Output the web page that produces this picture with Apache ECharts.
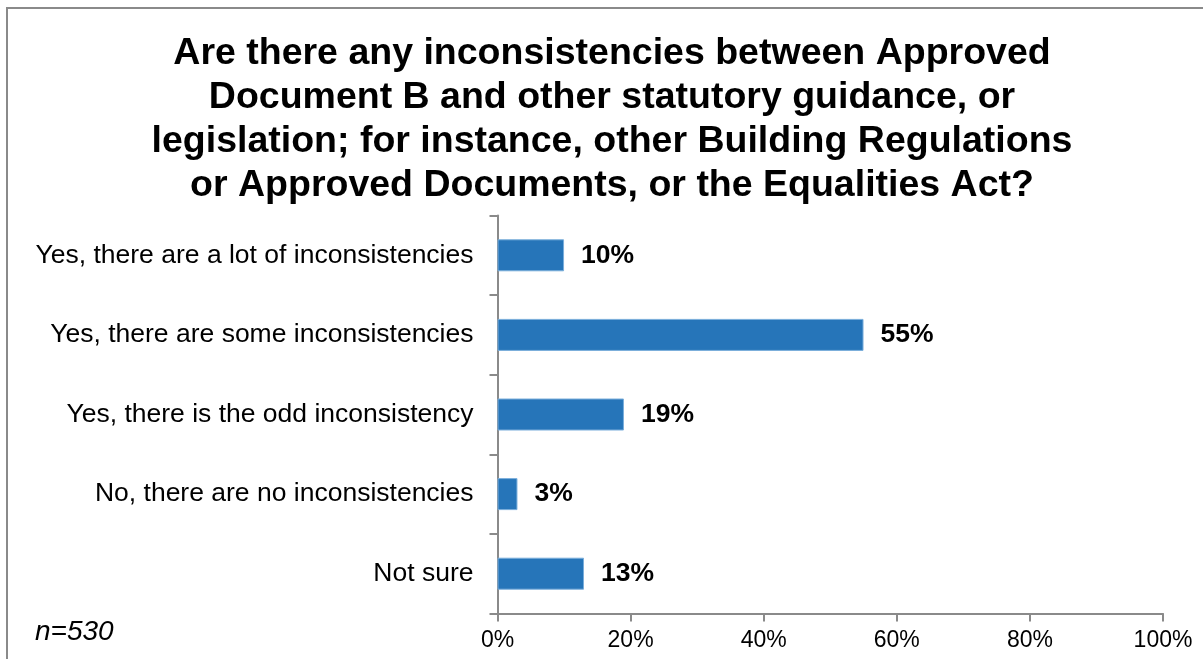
<!DOCTYPE html>
<html>
<head>
<meta charset="utf-8">
<script src="https://cdn.jsdelivr.net/npm/echarts@6/dist/echarts.min.js"></script>
<style>
  html, body { margin: 0; padding: 0; background: #ffffff; }
  #chart { width: 1203px; height: 659px; }
</style>
</head>
<body>
<div id="chart"></div>
<script>
// Survey responses (share of respondents, %)
const categories = [
  'Yes, there are a lot of inconsistencies',
  'Yes, there are some inconsistencies',
  'Yes, there is the odd inconsistency',
  'No, there are no inconsistencies',
  'Not sure'
];
const values = [10, 55, 19, 3, 13];
const xTicks = [0, 20, 40, 60, 80, 100];
const titleLines = [
  'Are there any inconsistencies between Approved',
  'Document B and other statutory guidance, or',
  'legislation; for instance, other Building Regulations',
  'or Approved Documents, or the Equalities Act?'
];
const sampleNote = 'n=530';

const FONT = 'Liberation Sans, Arial, sans-serif';
const AXIS_GREY = '#8a8a8a';

const chart = echarts.init(document.getElementById('chart'), null, { renderer: 'canvas' });

chart.setOption({
  backgroundColor: '#ffffff',
  animation: false,
  title: {
    text: titleLines.join('\n'),
    left: 607,
    top: 27,
    textAlign: 'center',
    textStyle: {
      fontFamily: FONT,
      fontWeight: 'bold',
      fontSize: 37.5,
      lineHeight: 44,
      color: '#000000'
    }
  },
  graphic: [
    {
      type: 'polyline',
      shape: { points: [[7, 700], [7, 8], [1210, 8]] },
      style: { stroke: AXIS_GREY, lineWidth: 2, fill: null },
      silent: true
    },
    {
      type: 'text',
      left: 35,
      top: 618,
      style: {
        text: sampleNote,
        font: 'italic 28px ' + FONT,
        fill: '#000000'
      }
    }
  ],
  grid: {
    left: 497.5,
    right: 40,
    top: 215.5,
    bottom: 45.5,
    containLabel: false
  },
  xAxis: {
    type: 'value',
    min: xTicks[0],
    max: xTicks[xTicks.length - 1],
    interval: 20,
    axisLine: { show: true, lineStyle: { color: AXIS_GREY, width: 2 } },
    axisTick: { show: true, length: 8, inside: false, lineStyle: { color: AXIS_GREY, width: 2 } },
    splitLine: { show: false },
    axisLabel: {
      formatter: '{value}%',
      fontFamily: FONT,
      fontSize: 23,
      color: '#000000',
      margin: 16
    }
  },
  yAxis: {
    type: 'category',
    data: categories,
    inverse: true,
    axisLine: { show: true, lineStyle: { color: AXIS_GREY, width: 2 } },
    axisTick: { show: true, length: 8, lineStyle: { color: AXIS_GREY, width: 2 } },
    axisLabel: {
      fontFamily: FONT,
      fontSize: 26.5,
      color: '#000000',
      margin: 24
    }
  },
  series: [
    {
      type: 'bar',
      data: values,
      barWidth: 32,
      itemStyle: {
        color: '#2675b9',
        borderColor: '#7aaedb',
        borderWidth: 1
      },
      label: {
        show: true,
        position: 'right',
        distance: 17,
        formatter: '{c}%',
        fontFamily: FONT,
        fontWeight: 'bold',
        fontSize: 26.5,
        color: '#000000'
      }
    }
  ]
});
</script>
</body>
</html>
